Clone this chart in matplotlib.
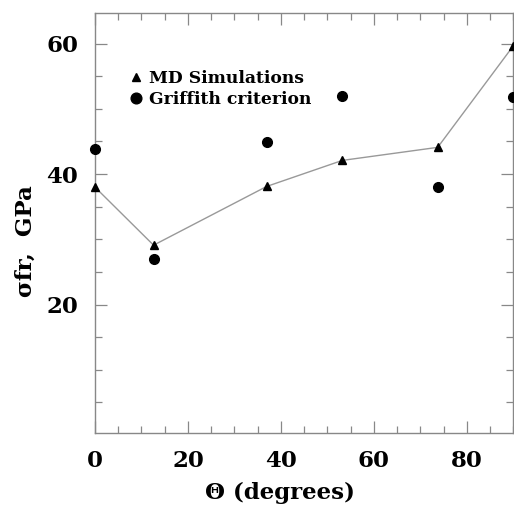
import matplotlib
matplotlib.use("Agg")
import matplotlib.pyplot as plt
from matplotlib.ticker import MultipleLocator

theta = [0, 12.6, 36.9, 53.2, 73.7, 90]
md_sim = [38.0, 29.1, 38.1, 42.1, 44.1, 59.7]
griffith = [43.9, 27.0, 44.9, 51.9, 38.0, 51.8]

xticks = [0, 20, 40, 60, 80]
yticks = [20, 40, 60]

plt.rcParams['font.family'] = ['DejaVu Serif']
plt.rcParams['font.weight'] = 'bold'

fig = plt.figure(figsize=(5.14, 5.08), dpi=100)
ax = fig.add_axes([0.1848, 0.1476, 0.8142, 0.8268])

ax.plot(theta, md_sim, color='#999999', lw=1.0, marker='^', ms=5.8,
        mfc='black', mec='black', clip_on=False, zorder=3, label='MD Simulations')
ax.plot(theta, griffith, ls='none', marker='o', ms=7,
        mfc='black', mec='black', clip_on=False, zorder=3, label='Griffith criterion')

ax.set_xlim(0, 90)
ax.set_ylim(0.3, 64.7)
ax.set_xticks(xticks)
ax.set_yticks(yticks)
ax.xaxis.set_minor_locator(MultipleLocator(5))
ax.yaxis.set_minor_locator(MultipleLocator(5))
ax.tick_params(which='both', direction='in', top=True, right=True, color='#888888',
               width=0.9)
ax.tick_params(which='major', length=8.5, labelsize=16.5, pad=12)
ax.tick_params(which='minor', length=5)
for lab in ax.get_xticklabels() + ax.get_yticklabels():
    lab.set_fontweight('bold')
for s in ax.spines.values():
    s.set_color('#888888')
    s.set_linewidth(1.0)

ax.set_xlabel('Θ (degrees)', fontsize=16.5, fontweight='bold')
ax.xaxis.set_label_coords(0.442, -0.116)
ax.set_ylabel('σfr,  GPa', fontsize=16.5, fontweight='bold')
ax.yaxis.set_label_coords(-0.138, 0.456)

leg = ax.legend(loc='upper left', bbox_to_anchor=(0.069, 0.88), frameon=False,
                prop={'size': 12.3, 'weight': 'bold'}, handlelength=0.6,
                handletextpad=0.5, labelspacing=0.2, borderaxespad=0,
                markerscale=1.1)
for h in leg.legend_handles:
    h.set_linestyle('none')

fig.savefig('out.png', dpi=100)
